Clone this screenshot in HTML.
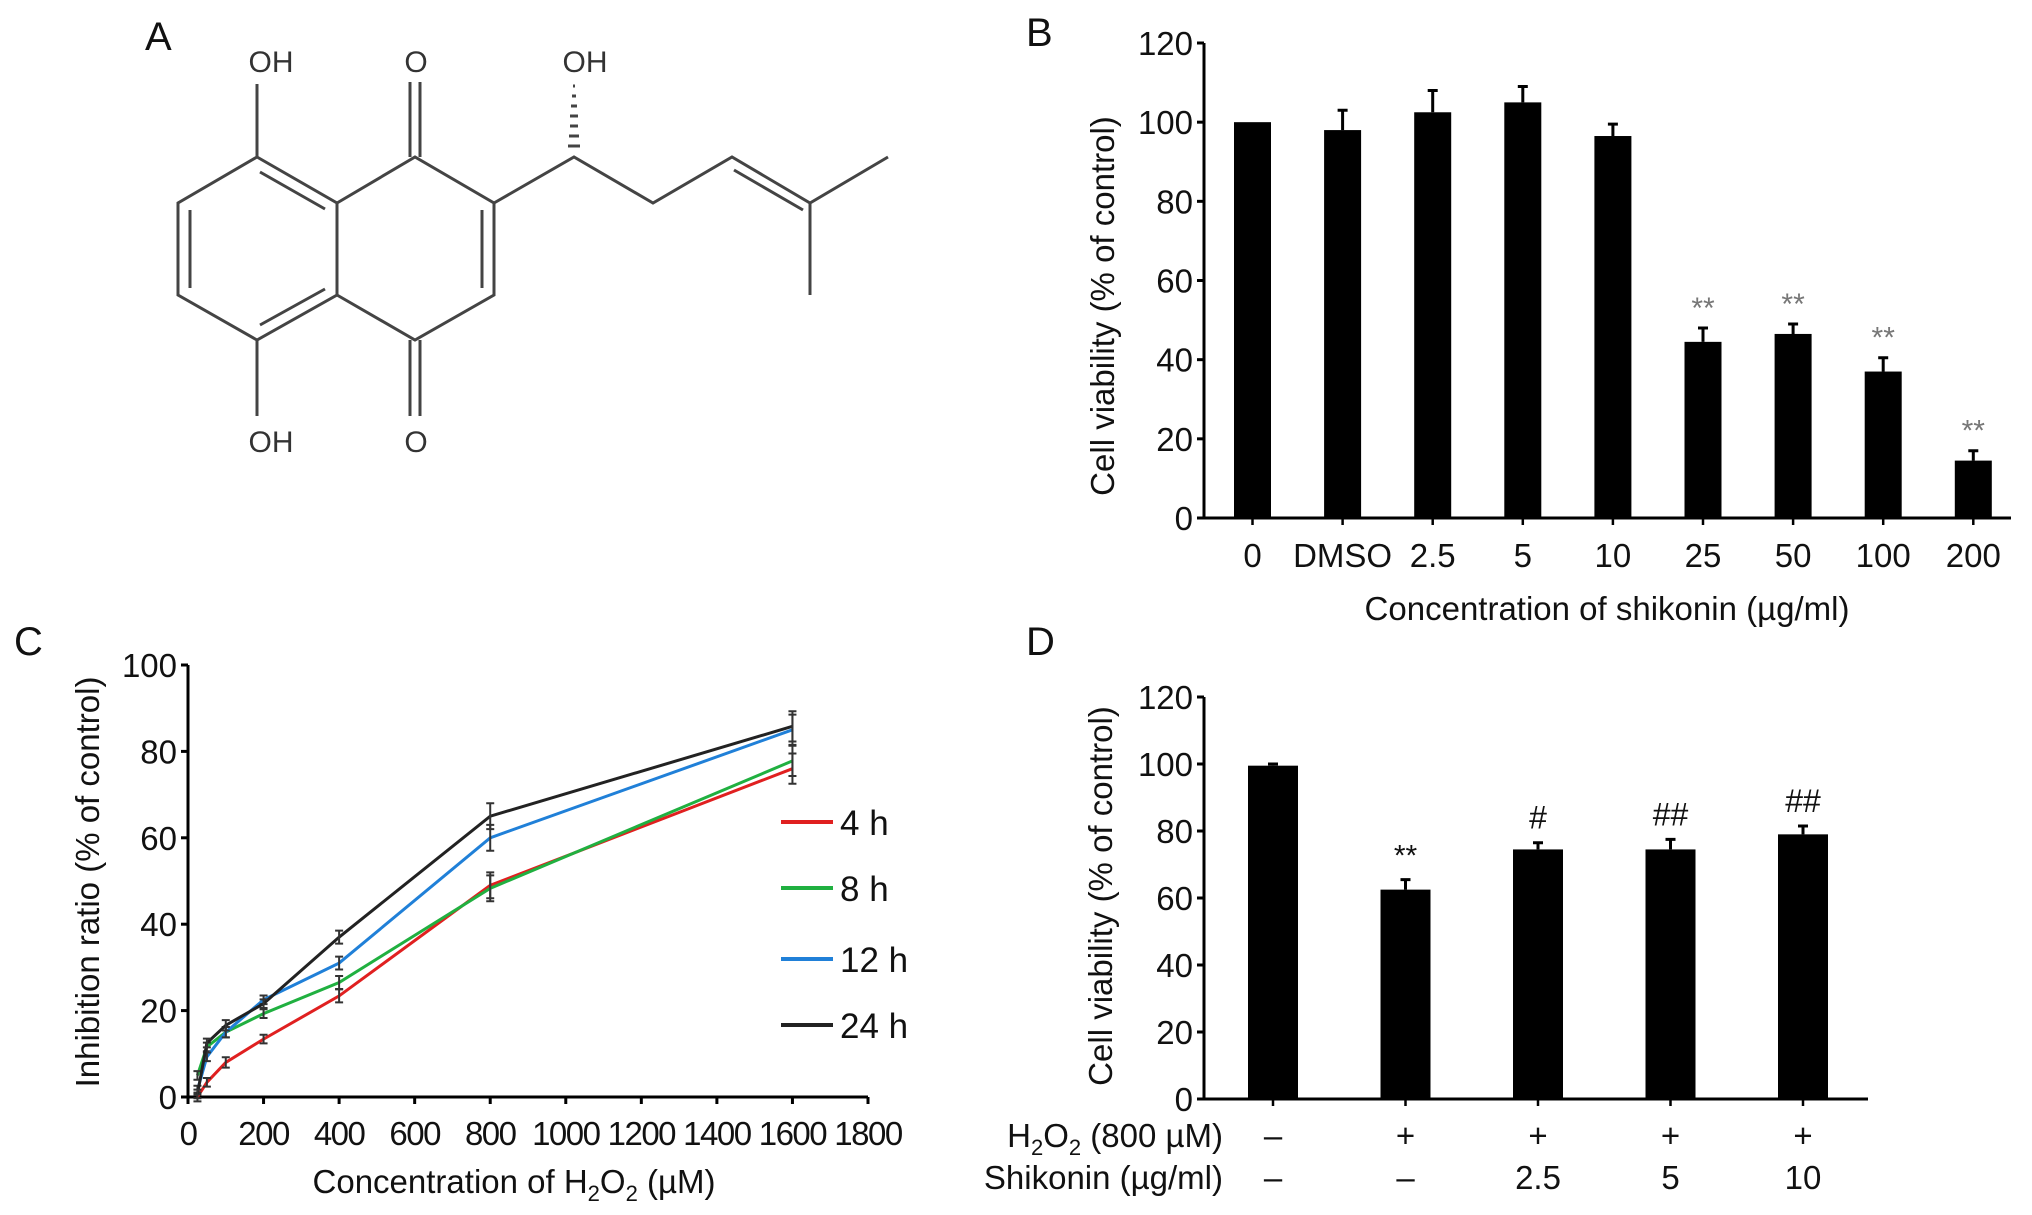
<!DOCTYPE html>
<html><head><meta charset="utf-8"><style>
html,body{margin:0;padding:0;background:#fff}
svg{display:block;font-family:"Liberation Sans",Arial,sans-serif}
</style></head><body>
<svg id="fig" width="2032" height="1215" viewBox="0 0 2032 1215">
<g id="panelA" stroke="#444" stroke-width="3" fill="none">
<text x="145" y="50" font-size="40" fill="#111" stroke="none">A</text>
<path d="M257,157 L337,203 L337,295 L257,340 L178,295 L178,203 Z"/>
<path d="M337,203 L415,157 L494,203 L494,295 L415,340 L337,295"/>
<path d="M260,172 L325,209 M190,210 L190,288 M260,325 L325,289 M482,210 L482,288"/>
<path d="M257,157 L257,84 M257,340 L257,416"/>
<path d="M410,157 L410,82 M420,157 L420,82 M410,340 L410,416 M420,340 L420,416"/>
<path d="M494,203 L574,157 L653,203 L732,157 L810,203 L888,157 M810,203 L810,295 M734,170 L803,210"/>
<path d="M568,146 L580,146 M569,136 L579,136 M570,126 L578,126 M570,116 L578,116 M571,106 L577,106 M572,96 L576,96 M573,86 L575,86" stroke-width="3"/>
<g fill="#333" stroke="none" font-size="30" text-anchor="middle">
<text x="271" y="72">OH</text><text x="416" y="72">O</text><text x="585" y="72">OH</text>
<text x="271" y="452">OH</text><text x="416" y="452">O</text></g>
</g>
<g id="panelB"></g>
<g id="panelC"></g>
<g id="panelD"></g>
</svg>
<script>
// Panel B data
const bCategories=["0","DMSO","2.5","5","10","25","50","100","200"];
const bValues=[100,98,102.5,105,96.5,44.5,46.5,37,14.5];
const bErrors=[0,5,5.5,4,3,3.5,2.5,3.5,2.5];
const bMarks=["","","","","","**","**","**","**"];
const bTicks=[0,20,40,60,80,100,120];
// Panel C data
const cX=[25,50,100,200,400,800,1600];
const cSeriesNames=["4 h","8 h","12 h","24 h"];
const c4h=[0,3.4,8,13.4,23.4,49,76];
const c8h=[5,11.6,15,19.3,26.5,48.3,77.8];
const c12h=[1.6,9.3,15,22.5,31,60,85];
const c24h=[0.7,12.5,16.6,21.6,37,65,85.8];
const cErr=[1,1,1.2,1,1.5,3,3.5];
const cXTicks=[0,200,400,600,800,1000,1200,1400,1600,1800];
const cYTicks=[0,20,40,60,80,100];
// Panel D data
const dValues=[99.5,62.5,74.5,74.5,79];
const dErrors=[0.5,3,2,3,2.5];
const dH2O2=["\u2013","+","+","+","+"];
const dShik=["\u2013","\u2013","2.5","5","10"];
const dMarks=["","**","#","##","##"];
const dTicks=[0,20,40,60,80,100,120];

const FS=33;
const NS="http://www.w3.org/2000/svg";
function mk(parent,tag,attrs,text){const e=document.createElementNS(NS,tag);for(const k in attrs)e.setAttribute(k,attrs[k]);if(text!==undefined)e.textContent=text;parent.appendChild(e);return e;}

// ---- Panel B
(function(){
const g=document.getElementById('panelB');
const x0=1204,xEnd=2011,yTop=43,yBot=518,step=90.1,first=1252.5,bw=37;
const y=v=>yBot-(v/120)*(yBot-yTop);
const xc=i=>first+i*step;
let t=mk(g,'text',{x:1026,y:46,'font-size':40,fill:'#111'},'B');


bValues.forEach((v,i)=>{
 let r=mk(g,'rect',{x:xc(i)-bw/2,y:y(v),width:bw,height:yBot-y(v),fill:'#000'});
 
 
 if(bErrors[i]>0){
  let e=mk(g,'path',{d:`M${xc(i)},${y(v)} V${y(v+bErrors[i])} M${xc(i)-5},${y(v+bErrors[i])} H${xc(i)+5}`,stroke:'#000','stroke-width':3});
  
  
 }
 if(bMarks[i]){let s=mk(g,'text',{x:xc(i),y:y(v+bErrors[i])-10,'font-size':30,fill:'#777','text-anchor':'middle'},bMarks[i]);
 
 }
 let l=mk(g,'text',{x:xc(i),y:567,'font-size':FS,fill:'#111','text-anchor':'middle'},bCategories[i]);
 
 
 mk(g,'line',{x1:xc(i),x2:xc(i),y1:yBot,y2:yBot+7,stroke:'#000','stroke-width':2.5});
});
mk(g,'path',{d:`M${x0},${yTop} V${yBot} H${xEnd}`,stroke:'#000','stroke-width':3,fill:'none'});
bTicks.forEach(v=>{mk(g,'line',{x1:x0-7,x2:x0,y1:y(v),y2:y(v),stroke:'#000','stroke-width':3});
 let l=mk(g,'text',{x:x0-11,y:y(v)+12,'font-size':FS,fill:'#111','text-anchor':'end'},v);
 
 });
let xt=mk(g,'text',{x:1607,y:620,'font-size':FS,fill:'#111','text-anchor':'middle'},'Concentration of shikonin (\u00b5g/ml)');


let yt=mk(g,'text',{x:0,y:0,'font-size':FS,fill:'#111','text-anchor':'middle',transform:'translate(1114,306) rotate(-90)'},'Cell viability (% of control)');


})();

// ---- Panel C
(function(){
const g=document.getElementById('panelC');
const x0=188,xEnd=868,yTop=665,yBot=1097;
const x=v=>x0+v/1800*(xEnd-x0);
const y=v=>yBot-v/100*(yBot-yTop);
let t=mk(g,'text',{x:14,y:655,'font-size':40,fill:'#111'},'C');


mk(g,'path',{d:`M${x0},${yTop} V${yBot} H${xEnd}`,stroke:'#000','stroke-width':3,fill:'none'});
cYTicks.forEach(v=>{mk(g,'line',{x1:x0-7,x2:x0,y1:y(v),y2:y(v),stroke:'#000','stroke-width':3});
 let l=mk(g,'text',{x:x0-11,y:y(v)+12,'font-size':FS,fill:'#111','text-anchor':'end'},v);
 
 });
cXTicks.forEach(v=>{mk(g,'line',{x1:x(v),x2:x(v),y1:yBot,y2:yBot+7,stroke:'#000','stroke-width':3});
 let l=mk(g,'text',{x:x(v),y:1145,'font-size':FS,fill:'#111','text-anchor':'middle','letter-spacing':-1.5},v);
 
 });
const series=[c4h,c8h,c12h,c24h];const colors=['#e02020','#20b040','#2080d8','#222'];
series.forEach((s,k)=>{
 let d=s.map((v,i)=>(i?'L':'M')+x(cX[i])+','+y(v)).join(' ');
 let p=mk(g,'path',{d:d,stroke:colors[k],'stroke-width':3,fill:'none'});
 
 
 s.forEach((v,i)=>{let e=mk(g,'path',{d:`M${x(cX[i])},${y(v-cErr[i])} V${y(v+cErr[i])} M${x(cX[i])-4},${y(v-cErr[i])} h8 M${x(cX[i])-4},${y(v+cErr[i])} h8`,stroke:'#333','stroke-width':2});
 
 });
 const ly=[822,888,959,1025][k];
 let le=mk(g,'line',{x1:781,x2:833,y1:ly,y2:ly,stroke:colors[k],'stroke-width':4});
 
 
 let lt=mk(g,'text',{x:840,y:ly+13,'font-size':35,fill:'#111'},cSeriesNames[k]);
 
 
});
let xt=mk(g,'text',{x:0,y:0,'font-size':FS,fill:'#111','text-anchor':'middle',transform:'translate(514,1193)'});


xt.innerHTML='Concentration of H<tspan font-size="22" dy="8">2</tspan><tspan dy="-8">O</tspan><tspan font-size="22" dy="8">2</tspan><tspan dy="-8"> (\u00b5M)</tspan>';
let yt=mk(g,'text',{x:0,y:0,'font-size':FS,fill:'#111','text-anchor':'middle',transform:'translate(99,882) rotate(-90)'},'Inhibition ratio (% of control)');


})();

// ---- Panel D
(function(){
const g=document.getElementById('panelD');
const x0=1204,xEnd=1868,yTop=697,yBot=1099,first=1273,step=132.5,bw=50;
const y=v=>yBot-v/120*(yBot-yTop);
const xc=i=>first+i*step;
let t=mk(g,'text',{x:1026,y:655,'font-size':40,fill:'#111'},'D');


dValues.forEach((v,i)=>{
 let r=mk(g,'rect',{x:xc(i)-bw/2,y:y(v),width:bw,height:yBot-y(v),fill:'#000'});
 
 
 let e=mk(g,'path',{d:`M${xc(i)},${y(v)} V${y(v+dErrors[i])} M${xc(i)-5},${y(v+dErrors[i])} H${xc(i)+5}`,stroke:'#000','stroke-width':3});
 
 
 if(dMarks[i]){let s=mk(g,'text',{x:xc(i),y:y(v+dErrors[i])-14,'font-size':dMarks[i]=='**'?30:32,fill:'#111','text-anchor':'middle'},dMarks[i]);
 
 }
 mk(g,'line',{x1:xc(i),x2:xc(i),y1:yBot,y2:yBot+7,stroke:'#000','stroke-width':2.5});
 let a=mk(g,'text',{x:xc(i),y:1147,'font-size':FS,fill:'#111','text-anchor':'middle'},dH2O2[i]);
 
 
 let b=mk(g,'text',{x:xc(i),y:1189,'font-size':FS,fill:'#111','text-anchor':'middle'},dShik[i]);
 
 
});
mk(g,'path',{d:`M${x0},${yTop} V${yBot} H${xEnd}`,stroke:'#000','stroke-width':3,fill:'none'});
dTicks.forEach(v=>{mk(g,'line',{x1:x0-7,x2:x0,y1:y(v),y2:y(v),stroke:'#000','stroke-width':3});
 let l=mk(g,'text',{x:x0-11,y:y(v)+12,'font-size':FS,fill:'#111','text-anchor':'end'},v);
 
 });
let r1=mk(g,'text',{x:1223,y:1147,'font-size':FS,fill:'#111','text-anchor':'end'});


r1.innerHTML='H<tspan font-size="22" dy="8">2</tspan><tspan dy="-8">O</tspan><tspan font-size="22" dy="8">2</tspan><tspan dy="-8"> (800 \u00b5M)</tspan>';
let r2=mk(g,'text',{x:1223,y:1189,'font-size':FS,fill:'#111','text-anchor':'end'},'Shikonin (\u00b5g/ml)');


let yt=mk(g,'text',{x:0,y:0,'font-size':FS,fill:'#111','text-anchor':'middle',transform:'translate(1112,896) rotate(-90)'},'Cell viability (% of control)');


})();
</script>
</body></html>
